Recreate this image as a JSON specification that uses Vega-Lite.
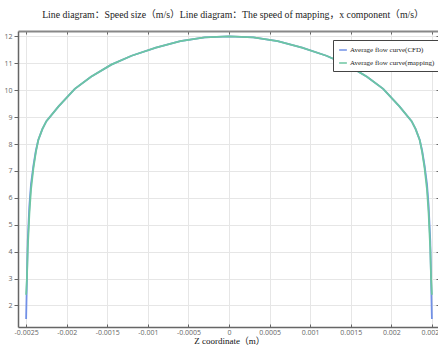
{
  "$schema": "https://vega.github.io/schema/vega-lite/v6.json",
  "width": 422,
  "height": 296,
  "autosize": {"type": "none"},
  "padding": {"left": 18, "top": 31, "right": 0, "bottom": 22},
  "background": "white",
  "title": {
    "text": "Line diagram：Speed size（m/s）Line diagram：The speed of mapping，x component（m/s）",
    "font": "Liberation Serif, Noto Sans CJK SC",
    "fontSize": 9.8,
    "fontWeight": "normal",
    "color": "#222",
    "anchor": "middle",
    "offset": 11,
    "dx": 4
  },
  "config": {
    "view": {"stroke": null},
    "axis": {
      "labelFont": "Open Sans",
      "labelFontSize": 7,
      "labelColor": "#666",
      "gridColor": "#e6e6e6",
      "gridWidth": 1,
      "domainColor": "#666",
      "domainWidth": 1.5,
      "tickColor": "#666",
      "tickWidth": 1,
      "titleFont": "Liberation Serif, Noto Sans CJK SC",
      "titleFontWeight": "normal",
      "titleFontSize": 9,
      "titleColor": "#111"
    }
  },
  "data": {
    "values": [
      {"s": "Average flow curve(CFD)", "z": -0.0025, "v": 1.5},
      {"s": "Average flow curve(CFD)", "z": -0.00249, "v": 3.0},
      {"s": "Average flow curve(CFD)", "z": -0.00248, "v": 4.4},
      {"s": "Average flow curve(CFD)", "z": -0.00246, "v": 5.7},
      {"s": "Average flow curve(CFD)", "z": -0.00244, "v": 6.5},
      {"s": "Average flow curve(CFD)", "z": -0.00241, "v": 7.2},
      {"s": "Average flow curve(CFD)", "z": -0.00238, "v": 7.75},
      {"s": "Average flow curve(CFD)", "z": -0.00235, "v": 8.15},
      {"s": "Average flow curve(CFD)", "z": -0.0023, "v": 8.55},
      {"s": "Average flow curve(CFD)", "z": -0.00225, "v": 8.85},
      {"s": "Average flow curve(CFD)", "z": -0.0021, "v": 9.4},
      {"s": "Average flow curve(CFD)", "z": -0.0019, "v": 10.05},
      {"s": "Average flow curve(CFD)", "z": -0.0017, "v": 10.5},
      {"s": "Average flow curve(CFD)", "z": -0.00145, "v": 10.95},
      {"s": "Average flow curve(CFD)", "z": -0.0012, "v": 11.28},
      {"s": "Average flow curve(CFD)", "z": -0.0009, "v": 11.58},
      {"s": "Average flow curve(CFD)", "z": -0.0006, "v": 11.82},
      {"s": "Average flow curve(CFD)", "z": -0.0003, "v": 11.96},
      {"s": "Average flow curve(CFD)", "z": 0, "v": 12.0},
      {"s": "Average flow curve(CFD)", "z": 0.0003, "v": 11.96},
      {"s": "Average flow curve(CFD)", "z": 0.0006, "v": 11.82},
      {"s": "Average flow curve(CFD)", "z": 0.0009, "v": 11.58},
      {"s": "Average flow curve(CFD)", "z": 0.0012, "v": 11.28},
      {"s": "Average flow curve(CFD)", "z": 0.00145, "v": 10.95},
      {"s": "Average flow curve(CFD)", "z": 0.0017, "v": 10.5},
      {"s": "Average flow curve(CFD)", "z": 0.0019, "v": 10.05},
      {"s": "Average flow curve(CFD)", "z": 0.0021, "v": 9.4},
      {"s": "Average flow curve(CFD)", "z": 0.00225, "v": 8.85},
      {"s": "Average flow curve(CFD)", "z": 0.0023, "v": 8.55},
      {"s": "Average flow curve(CFD)", "z": 0.00235, "v": 8.15},
      {"s": "Average flow curve(CFD)", "z": 0.00238, "v": 7.75},
      {"s": "Average flow curve(CFD)", "z": 0.00241, "v": 7.2},
      {"s": "Average flow curve(CFD)", "z": 0.00244, "v": 6.5},
      {"s": "Average flow curve(CFD)", "z": 0.00246, "v": 5.7},
      {"s": "Average flow curve(CFD)", "z": 0.00248, "v": 4.4},
      {"s": "Average flow curve(CFD)", "z": 0.00249, "v": 3.0},
      {"s": "Average flow curve(CFD)", "z": 0.0025, "v": 1.5},
      {"s": "Average flow curve(mapping)", "z": -0.0025, "v": 2.4},
      {"s": "Average flow curve(mapping)", "z": -0.00249, "v": 3.0},
      {"s": "Average flow curve(mapping)", "z": -0.00248, "v": 4.1},
      {"s": "Average flow curve(mapping)", "z": -0.00246, "v": 5.4},
      {"s": "Average flow curve(mapping)", "z": -0.00244, "v": 6.3},
      {"s": "Average flow curve(mapping)", "z": -0.00241, "v": 7.1},
      {"s": "Average flow curve(mapping)", "z": -0.00238, "v": 7.7},
      {"s": "Average flow curve(mapping)", "z": -0.00235, "v": 8.15},
      {"s": "Average flow curve(mapping)", "z": -0.0023, "v": 8.55},
      {"s": "Average flow curve(mapping)", "z": -0.00225, "v": 8.85},
      {"s": "Average flow curve(mapping)", "z": -0.0021, "v": 9.4},
      {"s": "Average flow curve(mapping)", "z": -0.0019, "v": 10.05},
      {"s": "Average flow curve(mapping)", "z": -0.0017, "v": 10.5},
      {"s": "Average flow curve(mapping)", "z": -0.00145, "v": 10.95},
      {"s": "Average flow curve(mapping)", "z": -0.0012, "v": 11.28},
      {"s": "Average flow curve(mapping)", "z": -0.0009, "v": 11.58},
      {"s": "Average flow curve(mapping)", "z": -0.0006, "v": 11.82},
      {"s": "Average flow curve(mapping)", "z": -0.0003, "v": 11.96},
      {"s": "Average flow curve(mapping)", "z": 0, "v": 12.0},
      {"s": "Average flow curve(mapping)", "z": 0.0003, "v": 11.96},
      {"s": "Average flow curve(mapping)", "z": 0.0006, "v": 11.82},
      {"s": "Average flow curve(mapping)", "z": 0.0009, "v": 11.58},
      {"s": "Average flow curve(mapping)", "z": 0.0012, "v": 11.28},
      {"s": "Average flow curve(mapping)", "z": 0.00145, "v": 10.95},
      {"s": "Average flow curve(mapping)", "z": 0.0017, "v": 10.5},
      {"s": "Average flow curve(mapping)", "z": 0.0019, "v": 10.05},
      {"s": "Average flow curve(mapping)", "z": 0.0021, "v": 9.4},
      {"s": "Average flow curve(mapping)", "z": 0.00225, "v": 8.85},
      {"s": "Average flow curve(mapping)", "z": 0.0023, "v": 8.55},
      {"s": "Average flow curve(mapping)", "z": 0.00235, "v": 8.15},
      {"s": "Average flow curve(mapping)", "z": 0.00238, "v": 7.7},
      {"s": "Average flow curve(mapping)", "z": 0.00241, "v": 7.1},
      {"s": "Average flow curve(mapping)", "z": 0.00244, "v": 6.3},
      {"s": "Average flow curve(mapping)", "z": 0.00246, "v": 5.4},
      {"s": "Average flow curve(mapping)", "z": 0.00248, "v": 4.1},
      {"s": "Average flow curve(mapping)", "z": 0.00249, "v": 3.0},
      {"s": "Average flow curve(mapping)", "z": 0.0025, "v": 2.4}
    ]
  },
  "layer": [
    {
      "transform": [{"filter": "datum.s === 'Average flow curve(CFD)'"}],
      "mark": {"type": "line", "strokeWidth": 1.8, "clip": true},
      "encoding": {
        "x": {
          "field": "z", "type": "quantitative",
          "scale": {"domain": [-0.0026, 0.0026], "nice": false, "zero": false},
          "axis": {
            "orient": "bottom",
            "values": [-0.0025, -0.002, -0.0015, -0.001, -0.0005, 0, 0.0005, 0.001, 0.0015, 0.002, 0.0025],
            "labelExpr": "'' + datum.value",
            "tickSize": -3,
            "labelPadding": 4,
            "title": "Z coordinate（m）",
            "titlePadding": 1,
            "grid": true
          }
        },
        "y": {
          "field": "v", "type": "quantitative",
          "scale": {"domain": [1.2, 12.2], "nice": false, "zero": false},
          "axis": {
            "orient": "left",
            "values": [2, 3, 4, 5, 6, 7, 8, 9, 10, 11, 12],
            "tickSize": 4,
            "labelPadding": 2,
            "title": null,
            "grid": true
          }
        },
        "color": {
          "field": "s", "type": "nominal",
          "scale": {
            "domain": ["Average flow curve(CFD)", "Average flow curve(mapping)"],
            "range": ["#7190e6", "#6cc6a2"]
          },
          "legend": {
            "orient": "none",
            "legendX": 315,
            "legendY": 9,
            "title": null,
            "fillColor": "white",
            "strokeColor": "#444",
            "padding": 5,
            "labelFont": "Liberation Serif",
            "labelFontSize": 7,
            "labelColor": "#222",
            "symbolType": "stroke",
            "symbolSize": 60,
            "symbolStrokeWidth": 1.5,
            "rowPadding": 5,
            "labelOffset": 2
          }
        }
      }
    },
    {
      "transform": [{"filter": "datum.s === 'Average flow curve(mapping)'"}],
      "mark": {"type": "line", "strokeWidth": 1.8, "clip": true},
      "encoding": {
        "x": {
          "field": "z", "type": "quantitative",
          "axis": {
            "orient": "top",
            "values": [-0.0025, -0.002, -0.0015, -0.001, -0.0005, 0, 0.0005, 0.001, 0.0015, 0.002, 0.0025],
            "labels": false,
            "tickSize": -3,
            "domainColor": "#888",
            "domainWidth": 2,
            "title": null,
            "grid": false
          }
        },
        "y": {
          "field": "v", "type": "quantitative",
          "axis": {
            "orient": "right",
            "values": [2, 3, 4, 5, 6, 7, 8, 9, 10, 11, 12],
            "labels": false,
            "tickSize": -4,
            "title": null,
            "grid": false
          }
        },
        "color": {"field": "s", "type": "nominal"}
      }
    }
  ]
}
